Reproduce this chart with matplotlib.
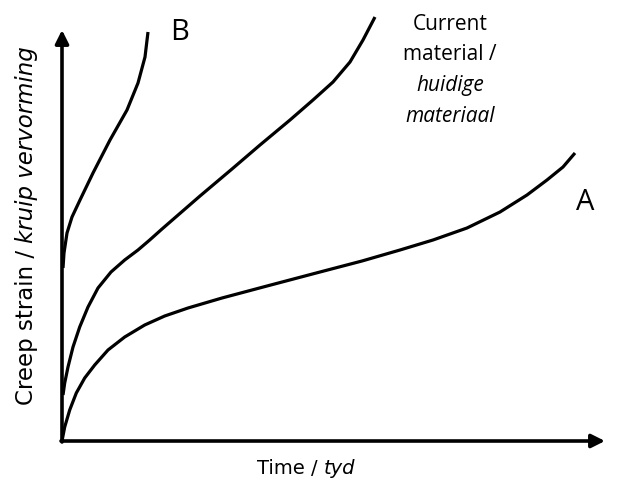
import matplotlib.pyplot as plt

# curve points (time, strain), arbitrary units
a_time = [0, 2.7, 7.7, 14.3, 22.7, 32.7, 46, 62.7, 82.7, 102.7, 126, 160, 205,
          258, 300, 338, 371, 405, 438, 465, 485, 501, 513]
a_strain = [0, 14, 31, 48, 63, 76, 91, 104, 116, 125, 133, 143, 155,
            169, 180, 191, 201, 213, 229, 246, 261, 274, 288]

cur_time = [1, 2.7, 6, 11, 17.7, 26, 36, 49, 62.7, 76, 87.7, 100, 138, 170,
            198, 228, 251, 271, 288, 301, 313]
cur_strain = [46, 58, 74, 94, 114, 134, 153, 169, 181, 191, 201, 212, 245, 272,
              296, 321, 341, 359, 379, 401, 424]

b_time = [1, 2, 5, 10, 18, 31, 48, 65, 76, 83, 86]
b_strain = [173, 188, 208, 224, 241, 268, 301, 331, 358, 384, 409]

x_max = 543
y_max = 411

plt.rcParams['font.family'] = ['Open Sans', 'DejaVu Sans']

fig = plt.figure(figsize=(6.19, 5.0), dpi=100)
ax = fig.add_axes([62 / 619, 59 / 500, 543 / 619, 411 / 500])
ax.set_xlim(0, x_max)
ax.set_ylim(0, y_max)
for s in ax.spines.values():
    s.set_visible(False)
ax.set_xticks([])
ax.set_yticks([])

line_kw = dict(color='black', lw=2.3, solid_capstyle='butt',
               solid_joinstyle='round', clip_on=False)
ax.plot(a_time, a_strain, **line_kw)
ax.plot(cur_time, cur_strain, **line_kw)
ax.plot(b_time, b_strain, **line_kw)

# axes with arrow heads
arrow_kw = dict(arrowstyle='-|>', color='black', lw=2.6, mutation_scale=20,
                shrinkA=0, shrinkB=0)
ax.annotate('', xy=(x_max, 0), xytext=(-1, 0), arrowprops=arrow_kw,
            annotation_clip=False)
ax.annotate('', xy=(0, y_max), xytext=(0, -1), arrowprops=arrow_kw,
            annotation_clip=False)

# curve labels
ax.text(118, 409, 'B', fontsize=21, ha='center', va='center')
ax.text(523, 239, 'A', fontsize=21, ha='center', va='center')
ax.text(388, 416, 'Current', fontsize=15, ha='center', va='center')
ax.text(388, 386, 'material /', fontsize=15, ha='center', va='center')
ax.text(388, 355, 'huidige', fontsize=15, ha='center', va='center',
        style='italic')
ax.text(388, 324, 'materiaal', fontsize=15, ha='center', va='center',
        style='italic')

# axis titles, english part upright and afrikaans part italic
lab_font = ['DejaVu Sans']
t1 = fig.text(290 / 619, 1 - 468 / 500, 'Time / ', fontsize=14,
              ha='center', va='center', family=lab_font)
ax.annotate('tyd', xy=(1, 0), xycoords=t1, va='bottom', ha='left',
            fontsize=14, style='italic', family=lab_font)

t2 = fig.text(27 / 619, 1 - 324 / 500, 'Creep strain / ', fontsize=16.5,
              rotation=90, ha='center', va='center', family=lab_font)
ax.annotate('kruip vervorming', xy=(0.5, 1), xycoords=t2, va='bottom',
            ha='center', rotation=90, fontsize=16.5, style='italic',
            family=lab_font)

fig.savefig('out.png', dpi=100)
